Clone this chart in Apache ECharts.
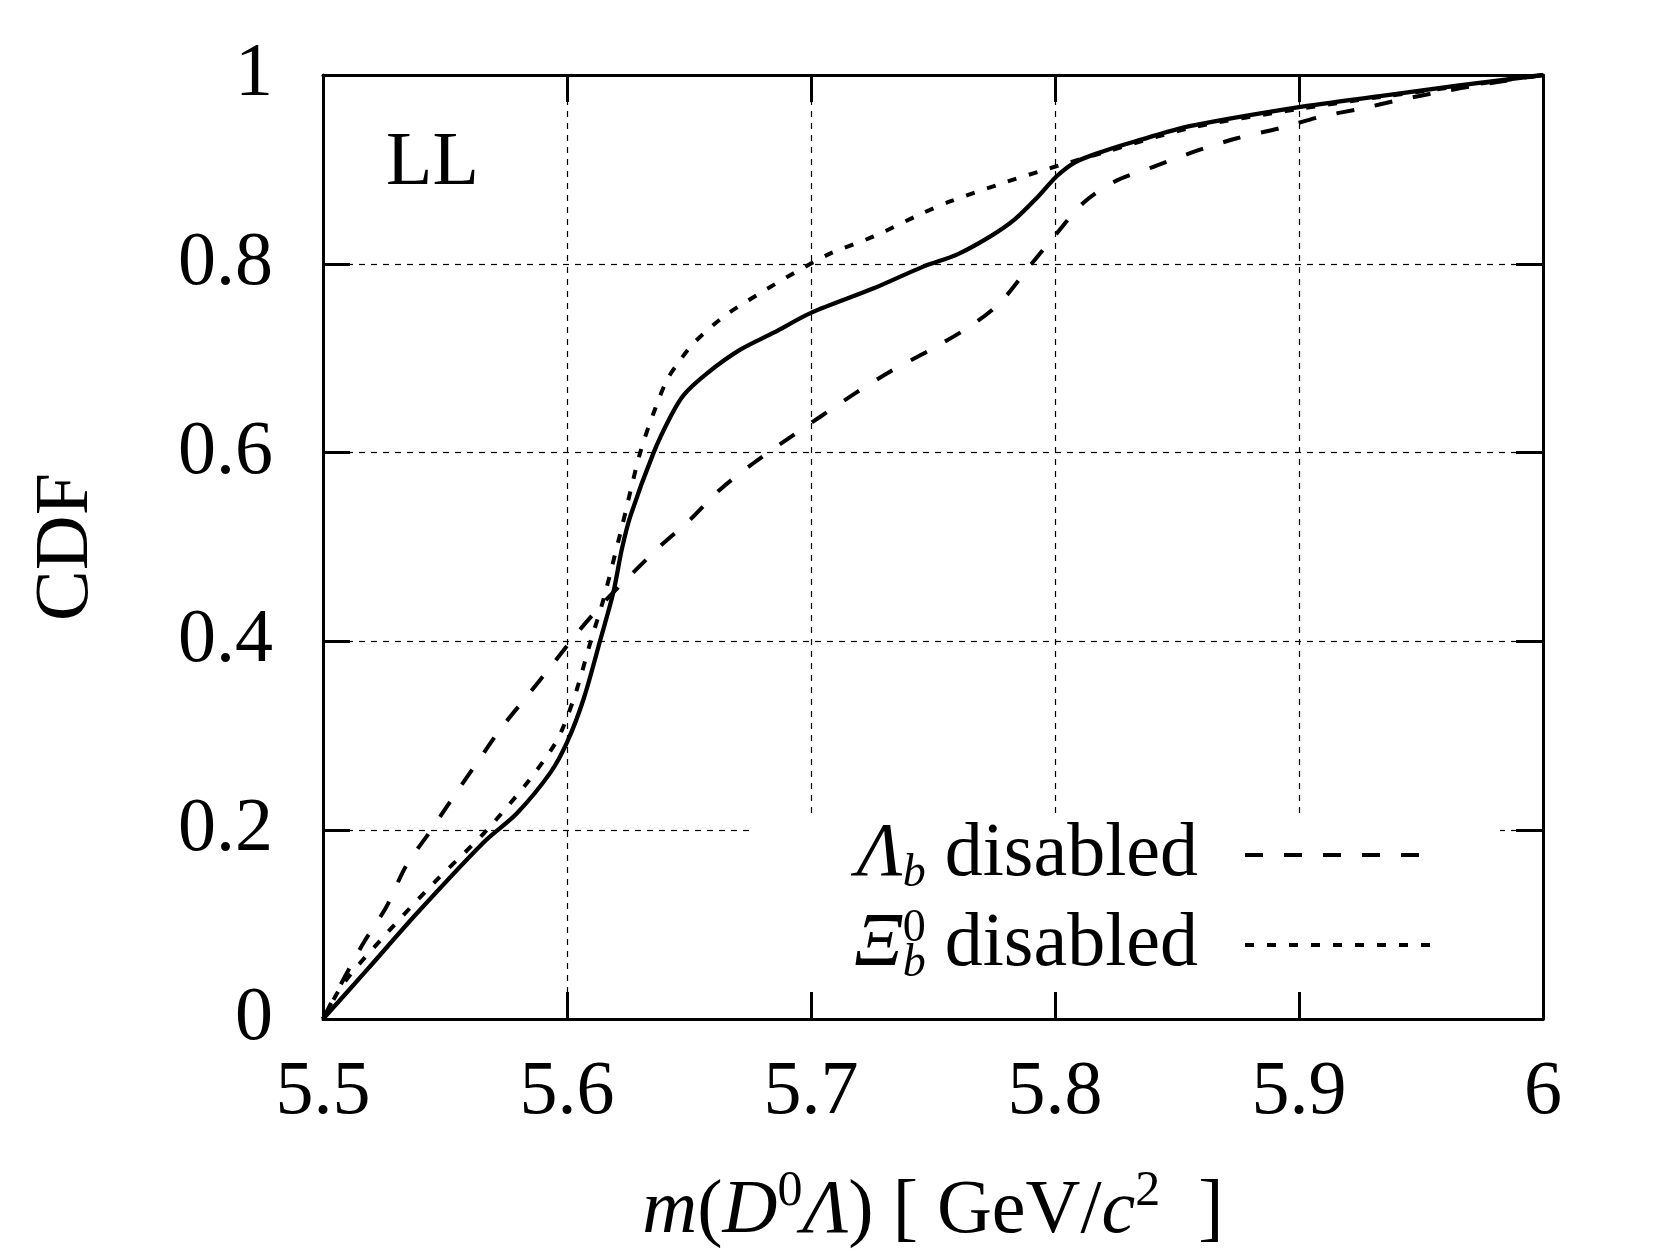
<!DOCTYPE html>
<html>
<head>
<meta charset="utf-8">
<script src="https://cdn.jsdelivr.net/npm/echarts@6/dist/echarts.min.js"></script>
<style>
  html, body { margin: 0; padding: 0; background: #fff; }
  #chart { width: 1679px; height: 1260px; }
</style>
</head>
<body>
<div id="chart"></div>
<script>
// ---- data ----
const xTicks = [5.5, 5.6, 5.7, 5.8, 5.9, 6];
const yTicks = [0, 0.2, 0.4, 0.6, 0.8, 1];

const nominalX = [5.5, 5.518, 5.5385, 5.5658, 5.5795, 5.5932, 5.6, 5.6068, 5.6137, 5.619, 5.6225, 5.626, 5.6355, 5.6424, 5.6478, 5.6574, 5.671, 5.6847, 5.70, 5.7257, 5.746, 5.760, 5.7735, 5.7835, 5.793, 5.8008, 5.8086, 5.8196, 5.832, 5.8557, 5.9, 5.934, 5.9656, 6.0];
const nominalY = [0, 0.052, 0.112, 0.187, 0.218, 0.261, 0.293, 0.339, 0.402, 0.452, 0.498, 0.533, 0.600, 0.638, 0.661, 0.684, 0.709, 0.727, 0.748, 0.774, 0.797, 0.810, 0.829, 0.847, 0.871, 0.893, 0.908, 0.919, 0.929, 0.946, 0.966, 0.978, 0.989, 1.0];

const lambdaX = [5.5, 5.509, 5.5167, 5.526, 5.534, 5.544, 5.5536, 5.563, 5.5727, 5.5836, 5.5945, 5.6055, 5.6164, 5.626, 5.6382, 5.6505, 5.6628, 5.6765, 5.6902, 5.7038, 5.7182, 5.7325, 5.749, 5.7653, 5.7772, 5.7898, 5.8, 5.8118, 5.8243, 5.8416, 5.8573, 5.8746, 5.8926, 5.9091, 5.9248, 5.942, 5.9578, 5.975, 6.0];
const lambdaY = [0, 0.045, 0.081, 0.119, 0.162, 0.199, 0.236, 0.271, 0.307, 0.342, 0.377, 0.413, 0.445, 0.470, 0.501, 0.529, 0.561, 0.589, 0.614, 0.638, 0.663, 0.686, 0.709, 0.734, 0.758, 0.798, 0.830, 0.865, 0.887, 0.904, 0.919, 0.933, 0.944, 0.956, 0.964, 0.974, 0.982, 0.990, 1.0];

const xiX = [5.5, 5.5085, 5.5262, 5.5454, 5.566, 5.5836, 5.5945, 5.5986, 5.604, 5.6096, 5.615, 5.6219, 5.630, 5.6355, 5.641, 5.6464, 5.6519, 5.6642, 5.6779, 5.6929, 5.708, 5.7257, 5.746, 5.757, 5.7804, 5.7976, 5.8055, 5.82, 5.8557, 5.9, 5.934, 5.9656, 6.0];
const xiY = [0, 0.038, 0.091, 0.144, 0.197, 0.250, 0.289, 0.310, 0.349, 0.399, 0.445, 0.515, 0.600, 0.642, 0.677, 0.698, 0.716, 0.744, 0.767, 0.790, 0.811, 0.829, 0.854, 0.866, 0.887, 0.901, 0.907, 0.918, 0.944, 0.964, 0.977, 0.988, 1.0];

const seriesNames = ['nominal', 'Λb disabled', 'Ξb0 disabled'];
const panelLabel = 'LL';

// ---- chart ----
const FONT = 'Liberation Serif';
const zip = (xs, ys) => xs.map((x, i) => [x, ys[i]]);
const fmt = v => String(Number(v.toFixed(1)));

const chart = echarts.init(document.getElementById('chart'));

const axisLine = { show: true, onZero: false, lineStyle: { color: '#000', width: 3 } };
const axisTick = { show: true, inside: true, length: 27, lineStyle: { color: '#000', width: 3 } };
const splitLine = { show: true, lineStyle: { color: '#000', width: 1.2, type: [6, 6] } };

const DASH = [18, 21];
const DOT = [9, 13];

const legendRich = {
  it: { fontFamily: FONT, fontSize: 76, fontStyle: 'italic', color: '#000' },
  rm: { fontFamily: FONT, fontSize: 76, color: '#000', padding: [0, 42, 0, 0] },
  sub: { fontFamily: FONT, fontSize: 46, fontStyle: 'italic', color: '#000', padding: [38, 0, 0, 0] },
  supz: { fontFamily: FONT, fontSize: 46, color: '#000', padding: [0, 0, 32, 0], width: 0 }
};

chart.setOption({
  animation: false,
  backgroundColor: '#fff',
  grid: { left: 323, right: 136, top: 75, bottom: 241, containLabel: false },
  graphic: [{
    type: 'text',
    left: 386,
    top: 126,
    style: { text: panelLabel, fontFamily: FONT, fontSize: 76, fill: '#000' }
  }],
  legend: {
    data: [
      { name: seriesNames[1], lineStyle: { type: DASH, width: 4, color: '#000' } },
      { name: seriesNames[2], lineStyle: { type: DOT, width: 4, color: '#000' } }
    ],
    orient: 'vertical',
    align: 'right',
    right: 179,
    top: 813,
    padding: [4, 58, 5, 100],
    itemWidth: 195,
    itemHeight: 90,
    itemGap: 9,
    selectedMode: false,
    backgroundColor: '#fff',
    itemStyle: { color: 'rgba(0,0,0,0)', borderColor: 'rgba(0,0,0,0)', borderWidth: 0 },
    textStyle: { fontFamily: FONT, fontSize: 76, color: '#000', rich: legendRich },
    formatter: function (name) {
      if (name === seriesNames[1]) return '{it|Λ}{sub|b}{rm| disabled}';
      return '{it|Ξ}{sub|b}{supz|0}{rm| disabled}';
    }
  },
  xAxis: [{
    type: 'value', position: 'bottom', min: xTicks[0], max: xTicks[xTicks.length - 1], interval: 0.1,
    axisLine, axisTick, splitLine,
    axisLabel: { fontFamily: FONT, fontSize: 76, color: '#000', margin: 36, formatter: fmt },
    name: '{it|m}{r|(}{it|D}{sup|0}{it|Λ}{r|) [ GeV/}{it|c}{sup|2}{r|  ]}',
    nameLocation: 'middle', nameGap: 148,
    nameTextStyle: {
      fontFamily: FONT, fontSize: 76, color: '#000',
      rich: {
        it: { fontFamily: FONT, fontSize: 76, fontStyle: 'italic', color: '#000' },
        r: { fontFamily: FONT, fontSize: 76, color: '#000' },
        sup: { fontFamily: FONT, fontSize: 50, color: '#000', padding: [0, 0, 40, 0] }
      }
    }
  }, {
    type: 'value', position: 'top', min: xTicks[0], max: xTicks[xTicks.length - 1], interval: 0.1,
    axisLine, axisTick, splitLine: { show: false }, axisLabel: { show: false }
  }],
  yAxis: [{
    type: 'value', position: 'left', min: yTicks[0], max: yTicks[yTicks.length - 1], interval: 0.2,
    axisLine, axisTick, splitLine,
    axisLabel: { fontFamily: FONT, fontSize: 76, color: '#000', margin: 50, formatter: fmt },
    name: 'CDF', nameLocation: 'middle', nameGap: 218, nameRotate: 90,
    nameTextStyle: { fontFamily: FONT, fontSize: 76, color: '#000' }
  }, {
    type: 'value', position: 'right', min: yTicks[0], max: yTicks[yTicks.length - 1], interval: 0.2,
    axisLine, axisTick, splitLine: { show: false }, axisLabel: { show: false }
  }],
  series: [
    {
      name: seriesNames[0], type: 'line', data: zip(nominalX, nominalY),
      symbol: 'none', smooth: 0.3,
      lineStyle: { color: '#000', width: 4.3, type: 'solid' }, z: 3
    },
    {
      name: seriesNames[1], type: 'line', data: zip(lambdaX, lambdaY),
      symbol: 'none', smooth: 0.3,
      lineStyle: { color: '#000', width: 4, type: DASH }, z: 3
    },
    {
      name: seriesNames[2], type: 'line', data: zip(xiX, xiY),
      symbol: 'none', smooth: 0.3,
      lineStyle: { color: '#000', width: 4, type: DOT }, z: 3
    }
  ]
});
</script>
</body>
</html>
